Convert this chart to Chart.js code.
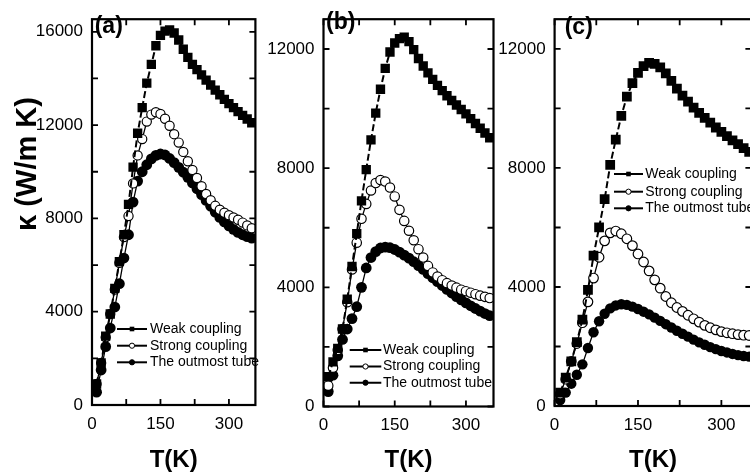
<!DOCTYPE html>
<html lang="en">
<head>
<meta charset="UTF-8" />
<title>Thermal conductivity vs temperature</title>
<script src="https://cdn.jsdelivr.net/npm/chart.js@4.4.1/dist/chart.umd.min.js"></script>
<style>
  html, body { margin: 0; padding: 0; background: #fff; }
  body { width: 750px; height: 475px; position: relative; overflow: hidden; }
  .panel { position: absolute; top: 0; height: 475px; }
  #boxA { left: 0; width: 262px; }
  #boxB { left: 262px; width: 241px; }
  #boxC { left: 497px; width: 265px; }
</style>
</head>
<body>
<div class="panel" id="boxA"><canvas id="chartA"></canvas></div>
<div class="panel" id="boxB"><canvas id="chartB"></canvas></div>
<div class="panel" id="boxC"><canvas id="chartC"></canvas></div>

<script>
// temperature grid (K)
const T_K = [10, 20, 30, 40, 50, 60, 70, 80, 90, 100, 110, 120, 130, 140, 150, 160, 170, 180,
  190, 200, 210, 220, 230, 240, 250, 260, 270, 280, 290, 300, 310, 320, 330, 340, 350];

const seriesNames = ["Weak coupling", "Strong coupling", "The outmost tube"];

// panel (a)
const weakA = [900, 1800, 2950, 3900, 5000, 6150, 7300, 8600, 10200, 11650, 12750, 13800, 14600,
  15400, 15850, 16030, 16080, 15950, 15650, 15250, 14900, 14600, 14380, 14150, 13930, 13720,
  13500, 13300, 13100, 12920, 12750, 12580, 12420, 12260, 12100];
const strongA = [900, 1800, 2900, 3900, 4950, 6100, 7200, 8100, 9500, 10700, 11400, 12150, 12450,
  12550, 12480, 12270, 11970, 11610, 11250, 10850, 10450, 10080, 9730, 9380, 9050, 8780, 8540,
  8370, 8240, 8140, 8040, 7940, 7820, 7700, 7580];
const outerA = [550, 1500, 2500, 3300, 4200, 5200, 6300, 7300, 8700, 9600, 10000, 10300, 10550,
  10700, 10760, 10720, 10570, 10390, 10190, 9980, 9760, 9520, 9270, 9020, 8770, 8520, 8270,
  8040, 7850, 7680, 7530, 7400, 7300, 7220, 7150];

// panel (b)
const weakB = [1000, 1500, 1950, 2600, 3600, 4700, 5800, 6900, 7950, 8950, 9850, 10650, 11350,
  11900, 12200, 12350, 12400, 12250, 11980, 11680, 11430, 11200, 10980, 10780, 10600, 10430,
  10270, 10120, 9970, 9820, 9660, 9500, 9340, 9180, 9020];
const strongB = [700, 1300, 1900, 2600, 3500, 4600, 5500, 6300, 6800, 7250, 7500, 7600, 7550,
  7350, 7050, 6600, 6230, 5900, 5580, 5280, 5000, 4720, 4500, 4360, 4240, 4140, 4060, 3990,
  3920, 3870, 3820, 3770, 3720, 3680, 3640];
const outerB = [500, 1050, 1700, 2250, 2600, 2950, 3350, 4000, 4650, 5000, 5200, 5320, 5350,
  5330, 5270, 5180, 5080, 4980, 4860, 4730, 4600, 4460, 4320, 4190, 4060, 3930, 3810, 3690,
  3580, 3480, 3380, 3290, 3200, 3120, 3050];

// panel (c)
const weakC = [450, 950, 1500, 2150, 2900, 3900, 5050, 6000, 6950, 8100, 8950, 9750, 10400,
  10850, 11200, 11420, 11530, 11500, 11380, 11180, 10930, 10670, 10430, 10230, 10030, 9850,
  9680, 9520, 9360, 9210, 9070, 8930, 8800, 8670, 8540];
const strongC = [400, 900, 1500, 2100, 2800, 3500, 4300, 5000, 5550, 5820, 5880, 5790, 5620,
  5390, 5110, 4840, 4540, 4240, 3960, 3680, 3470, 3310, 3180, 3050, 2930, 2820, 2710, 2630,
  2560, 2500, 2460, 2430, 2400, 2380, 2370];
const outerC = [200, 450, 750, 1050, 1400, 1950, 2480, 2850, 3100, 3280, 3380, 3420, 3400,
  3340, 3260, 3170, 3080, 2970, 2860, 2750, 2640, 2530, 2430, 2330, 2230, 2140, 2060, 1980,
  1910, 1850, 1800, 1750, 1710, 1680, 1660];

// ticks
const xTickLabels = [0, 150, 300];
const xTickMarks = [0, 75, 150, 225, 300];
const yTickLabelsA = [0, 4000, 8000, 12000, 16000];
const yTickMarksA = [0, 2000, 4000, 6000, 8000, 10000, 12000, 14000, 16000];
const yTickLabelsBC = [0, 4000, 8000, 12000];
const yTickMarksBC = [0, 2000, 4000, 6000, 8000, 10000, 12000];

const FONT = "'Liberation Sans', Arial, Helvetica, sans-serif";

// frame, inward ticks, panel letter, legend and y title
const panelDeco = {
  id: "panelDeco",
  afterDatasetsDraw(chart, args, opts) {
    const { ctx, chartArea: a, scales } = chart;
    ctx.save();
    ctx.strokeStyle = "#000";
    ctx.fillStyle = "#000";
    ctx.setLineDash([]);

    ctx.lineWidth = 1.8;
    ctx.beginPath();
    opts.xMarks.forEach((v) => {
      const px = scales.x.getPixelForValue(v);
      ctx.moveTo(px, a.bottom);
      ctx.lineTo(px, a.bottom - 6);
      ctx.moveTo(px, a.top);
      ctx.lineTo(px, a.top + 6);
    });
    opts.yMarks.forEach((v) => {
      const py = scales.y.getPixelForValue(v);
      ctx.moveTo(a.left, py);
      ctx.lineTo(a.left + 6, py);
      ctx.moveTo(a.right, py);
      ctx.lineTo(a.right - 6, py);
    });
    ctx.stroke();

    ctx.lineWidth = 2.2;
    ctx.strokeRect(a.left, a.top, a.right - a.left, a.bottom - a.top);

    // panel letter
    ctx.font = "bold 23px " + FONT;
    ctx.textBaseline = "middle";
    ctx.textAlign = "left";
    ctx.fillText(opts.letter, opts.letterX, opts.letterY);

    // legend
    const lg = opts.legend;
    ctx.font = "14px " + FONT;
    chart.data.datasets.forEach((ds, i) => {
      const y = lg.ys[i];
      ctx.lineWidth = 2;
      ctx.strokeStyle = "#000";
      ctx.beginPath();
      ctx.moveTo(lg.x0, y);
      ctx.lineTo(lg.x1, y);
      ctx.stroke();
      const mx = (lg.x0 + lg.x1) / 2;
      ctx.lineWidth = 1;
      if (ds.pointStyle === "rect") {
        ctx.fillStyle = "#000";
        ctx.fillRect(mx - 2.3, y - 2.3, 4.6, 4.6);
      } else {
        ctx.beginPath();
        ctx.arc(mx, y, 2.6, 0, Math.PI * 2);
        ctx.fillStyle = ds.pointBackgroundColor;
        ctx.fill();
        ctx.stroke();
      }
      ctx.fillStyle = "#000";
      ctx.fillText(ds.label, lg.tx, y);
    });

    if (opts.yTitle) {
      ctx.save();
      ctx.translate(opts.yTitle.x, opts.yTitle.y);
      ctx.rotate(-Math.PI / 2);
      ctx.font = "bold 29px " + FONT;
      ctx.textAlign = "center";
      ctx.textBaseline = "middle";
      ctx.fillText(opts.yTitle.text, 0, 0);
      ctx.restore();
    }
    ctx.restore();
  },
};

function pts(values) {
  return T_K.map((t, i) => ({ x: t, y: values[i] }));
}

function makePanel(id, cfg) {
  const ctx = document.getElementById(id).getContext("2d");
  return new Chart(ctx, {
    type: "line",
    data: {
      datasets: [
        {
          label: seriesNames[0],
          data: pts(cfg.weak),
          borderColor: "#000",
          borderWidth: 2,
          borderDash: [7, 3],
          pointStyle: "rect",
          pointRadius: cfg.sq,
          pointBackgroundColor: "#000",
          pointBorderColor: "#000",
          pointBorderWidth: 0,
          clip: 0,
        },
        {
          label: seriesNames[1],
          data: pts(cfg.strong),
          borderColor: "#000",
          borderWidth: 1.3,
          pointStyle: "circle",
          pointRadius: cfg.oc,
          pointBackgroundColor: "#fff",
          pointBorderColor: "#000",
          pointBorderWidth: 1.2,
          clip: 0,
        },
        {
          label: seriesNames[2],
          data: pts(cfg.outer),
          borderColor: "#000",
          borderWidth: 1.3,
          pointStyle: "circle",
          pointRadius: cfg.fc,
          pointBackgroundColor: "#000",
          pointBorderColor: "#000",
          pointBorderWidth: 0,
          clip: 0,
        },
      ],
    },
    options: {
      responsive: true,
      maintainAspectRatio: false,
      animation: false,
      layout: { padding: cfg.padding },
      plugins: {
        legend: { display: false },
        tooltip: { enabled: false },
        panelDeco: cfg.deco,
      },
      scales: {
        x: {
          type: "linear",
          min: 0,
          max: cfg.xMax,
          afterBuildTicks: (ax) => { ax.ticks = xTickLabels.map((v) => ({ value: v })); },
          afterFit: (ax) => { ax.height = cfg.xHeight; },
          grid: { display: false, drawTicks: false },
          border: { display: false },
          ticks: {
            padding: 9,
            color: "#000",
            maxRotation: 0,
            autoSkip: false,
            font: { family: FONT, size: 17 },
            callback: (v) => String(v),
          },
          title: {
            display: true,
            text: "T(K)",
            color: "#000",
            padding: { top: 4, bottom: 0 },
            font: { family: FONT, size: 24, weight: "bold" },
          },
        },
        y: {
          min: 0,
          max: cfg.yMax,
          afterBuildTicks: (ax) => { ax.ticks = cfg.yLabels.map((v) => ({ value: v })); },
          afterFit: (ax) => { ax.width = cfg.yWidth; },
          grid: { display: false, drawTicks: false },
          border: { display: false },
          ticks: {
            padding: 9,
            color: "#000",
            autoSkip: false,
            font: { family: FONT, size: 17 },
            callback: (v) => String(v),
          },
        },
      },
    },
    plugins: [panelDeco],
  });
}

makePanel("chartA", {
  weak: weakA, strong: strongA, outer: outerA,
  sq: 6.6, oc: 4.6, fc: 5.4,
  xMax: 358, yMax: 16540, yLabels: yTickLabelsA,
  yWidth: 92, xHeight: 70,
  padding: { top: 9, right: 2, left: 0, bottom: 0 },
  deco: {
    xMarks: xTickMarks, yMarks: yTickMarksA,
    letter: "(a)", letterX: 94.7, letterY: 26.7,
    legend: { x0: 117, x1: 147, tx: 150, ys: [329, 345.7, 362.3] },
    yTitle: { text: "κ (W/m K)", x: 28, y: 164 },
  },
});

makePanel("chartB", {
  weak: weakB, strong: strongB, outer: outerB,
  sq: 6.6, oc: 4.7, fc: 5.4,
  xMax: 358, yMax: 13000, yLabels: yTickLabelsBC,
  yWidth: 61.5, xHeight: 68.5,
  padding: { top: 8.3, right: 9.5, left: 0, bottom: 0 },
  deco: {
    xMarks: xTickMarks, yMarks: yTickMarksBC,
    letter: "(b)", letterX: 64, letterY: 22.5,
    legend: { x0: 87.7, x1: 119.3, tx: 121, ys: [350, 366.5, 382.7] },
  },
});

makePanel("chartC", {
  weak: weakC, strong: strongC, outer: outerC,
  sq: 6.9, oc: 4.8, fc: 5.2,
  xMax: 354, yMax: 13000, yLabels: yTickLabelsBC,
  yWidth: 57.6, xHeight: 69,
  padding: { top: 8.3, right: 10.6, left: 0, bottom: 0 },
  deco: {
    xMarks: xTickMarks, yMarks: yTickMarksBC,
    letter: "(c)", letterX: 67.7, letterY: 27.5,
    legend: { x0: 117, x1: 146, tx: 148.3, ys: [174, 191.7, 208.3] },
  },
});
</script>
</body>
</html>
